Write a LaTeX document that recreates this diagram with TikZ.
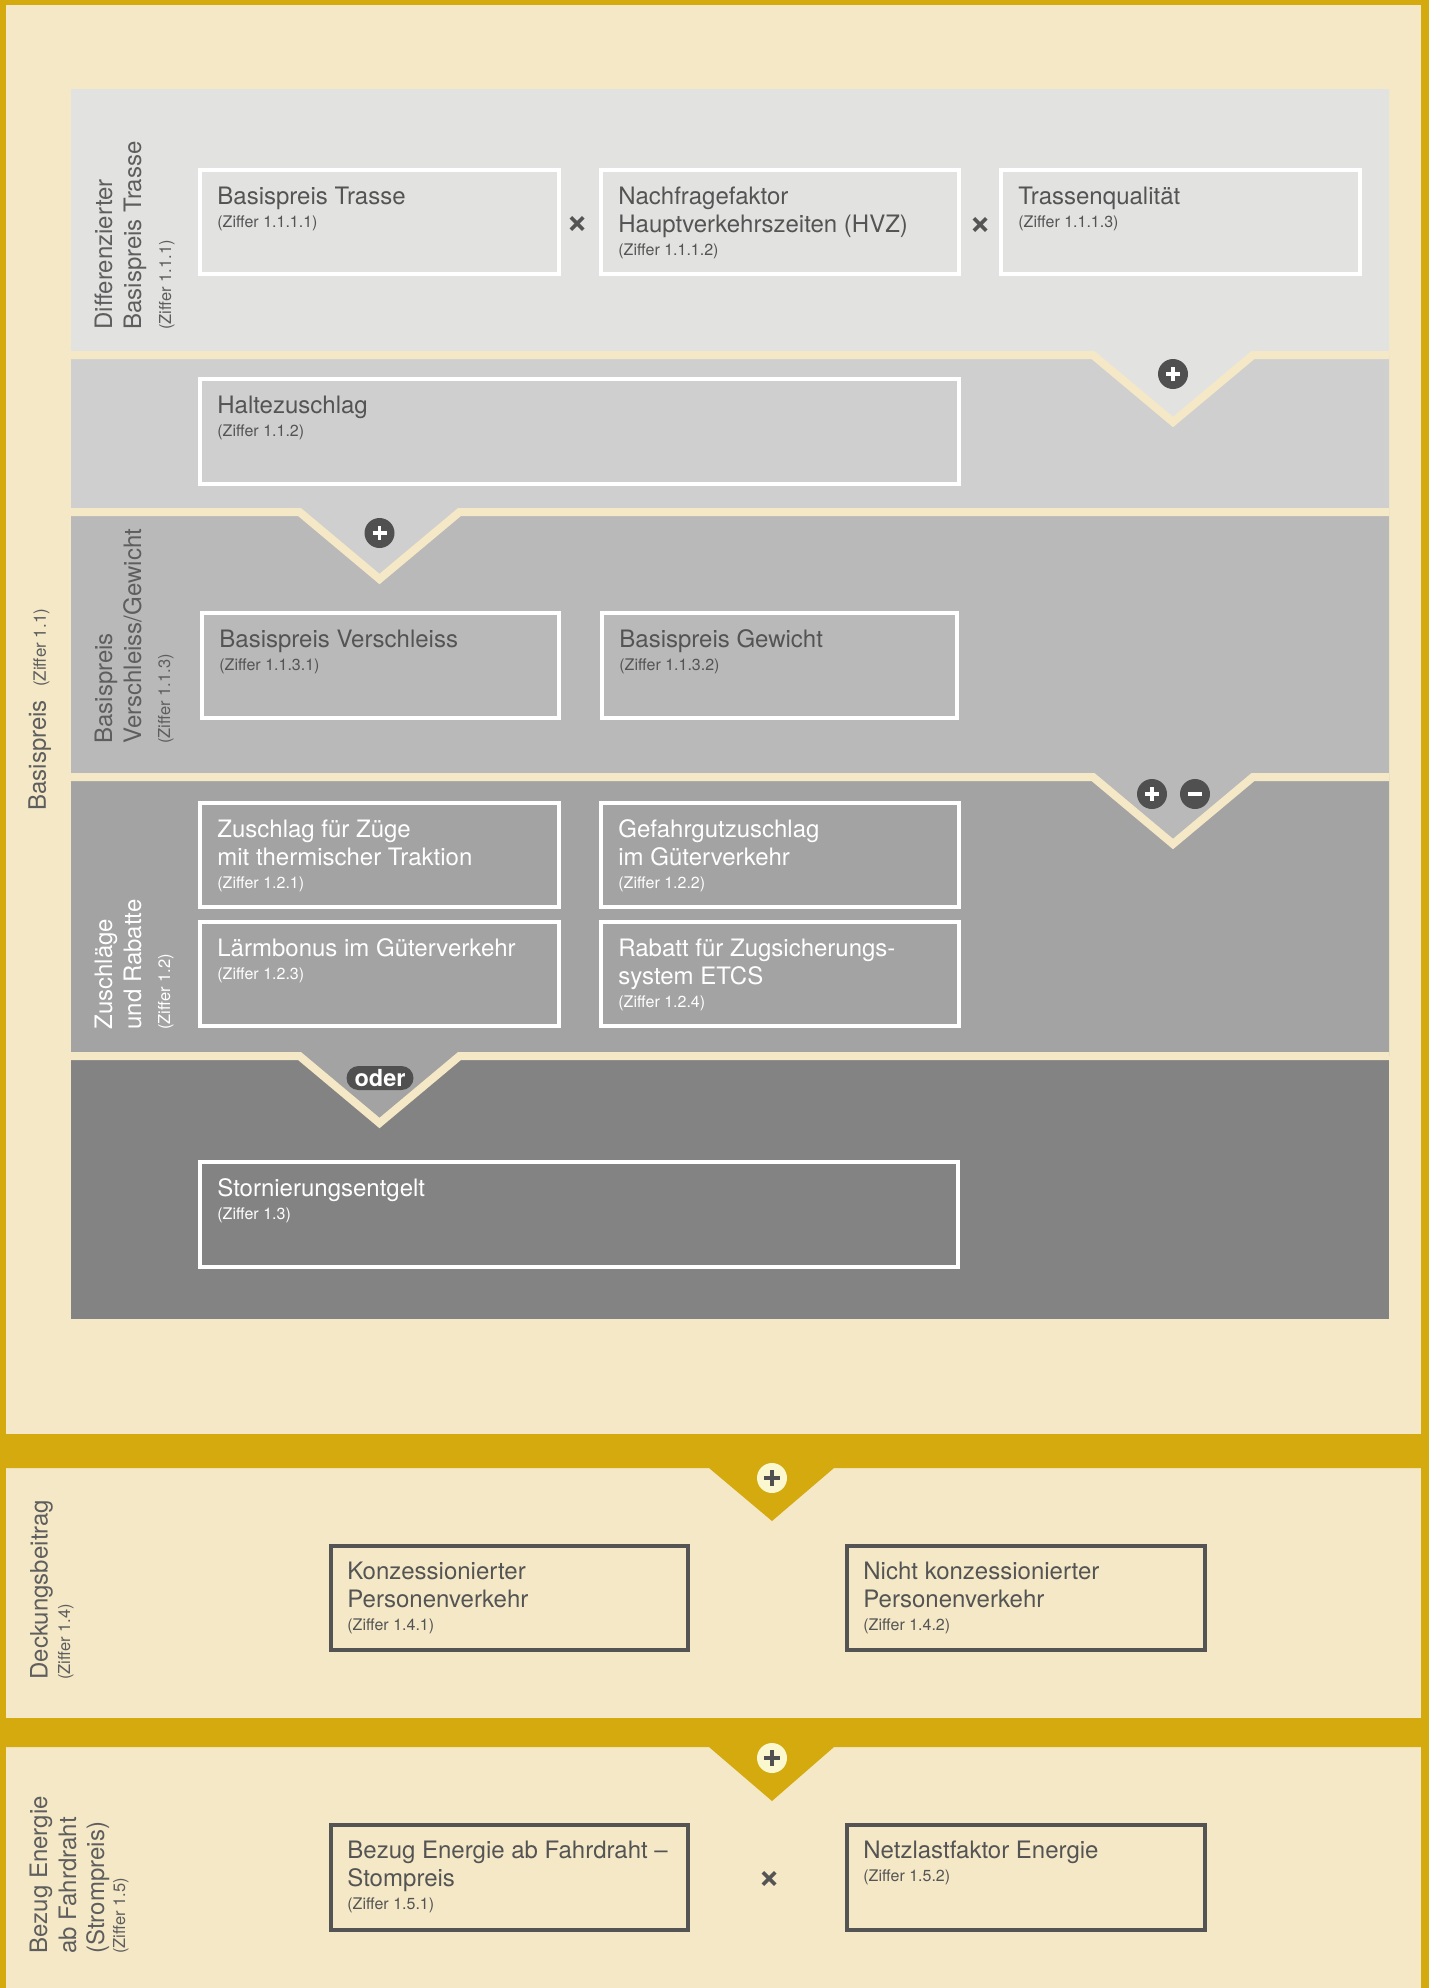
\documentclass[tikz,border=0pt]{standalone}
\usepackage{fontspec}
\setmainfont{TeX Gyre Heros}
\usetikzlibrary{calc}
\definecolor{gold}{RGB}{212,170,15}
\definecolor{cream}{RGB}{244,232,198}
\definecolor{sA}{RGB}{226,227,225}
\definecolor{sB}{RGB}{207,207,207}
\definecolor{sC}{RGB}{185,185,185}
\definecolor{sD}{RGB}{163,163,163}
\definecolor{sE}{RGB}{131,131,131}
\definecolor{txt}{RGB}{84,84,84}
\definecolor{lbl}{RGB}{94,94,94}
\definecolor{icon}{RGB}{80,80,80}
\definecolor{pale}{RGB}{251,248,208}
\newcommand\Ttl[2]{\vtop{\baselineskip=14.25pt\lineskiplimit=0pt\lineskip=1pt #1\baselineskip=11.5pt\hbox{\fontsize{8}{10}\selectfont #2}}}
\newcommand\Ln[1]{\hbox{#1}}
\newcommand\zsmall{\fontsize{8.5}{10}\selectfont}
\begin{document}
\begin{tikzpicture}[x=0.5pt,y=-0.5pt,
  wbox/.style={draw=white, line width=2pt, inner sep=0pt},
  dbox/.style={draw=txt, line width=2pt, inner sep=0pt},
  ttl/.style={anchor=base west, inner sep=0pt, font=\fontsize{12}{14.25}\selectfont, text=txt},
  ttlw/.style={ttl, text=white},
  vl/.style={rotate=90, anchor=base west, inner sep=0pt, font=\fontsize{12}{14}\selectfont, text=lbl},
  vz/.style={vl, font=\fontsize{8.25}{10}\selectfont},
  sep/.style={draw=cream, line width=4pt, line join=miter},
  mult/.style={font=\fontsize{19}{19}\selectfont\bfseries, text=txt, inner sep=0pt},
  dicon/.style={circle, fill=icon, minimum size=15pt, inner sep=0pt},
  picon/.style={circle, fill=pale, minimum size=15pt, inner sep=0pt},
  wsym/.style={draw=white, line width=1.6pt},
  gsym/.style={draw=icon, line width=1.75pt}]
\useasboundingbox (0,0) rectangle (1429,1988);
% background frame
\fill[gold] (0,0) rectangle (1429,1988);
\fill[cream] (5.5,4.5) rectangle (1421,1988);
% gold bands with triangles
\fill[gold] (0,1434) -- (1429,1434) -- (1429,1468) -- (834,1468) -- (772,1521) -- (709,1468) -- (0,1468) -- cycle;
\fill[gold] (0,1718) -- (1429,1718) -- (1429,1747) -- (834,1747) -- (772,1801) -- (709,1747) -- (0,1747) -- cycle;
% grey sections
\fill[sE] (71,1056) rectangle (1389,1319);
\fill[sD] (71,777) -- (1389,777) -- (1389,1056) -- (459.5,1056) -- (379.5,1123) -- (299.5,1056) -- (71,1056) -- cycle;
\fill[sC] (71,512) -- (1389,512) -- (1389,777) -- (1253,777) -- (1173,844) -- (1093,777) -- (71,777) -- cycle;
\fill[sB] (71,355) -- (1389,355) -- (1389,512) -- (459.5,512) -- (379.5,579) -- (299.5,512) -- (71,512) -- cycle;
\fill[sA] (71,89) -- (1389,89) -- (1389,355) -- (1253,355) -- (1173,422) -- (1093,355) -- (71,355) -- cycle;
% separators
\draw[sep] (71,355) -- (1093,355) -- (1173,422) -- (1253,355) -- (1389,355);
\draw[sep] (71,512) -- (299.5,512) -- (379.5,579) -- (459.5,512) -- (1389,512);
\draw[sep] (71,777) -- (1093,777) -- (1173,844) -- (1253,777) -- (1389,777);
\draw[sep] (71,1056) -- (299.5,1056) -- (379.5,1123) -- (459.5,1056) -- (1389,1056);

% icons
\node[dicon] (p1) at (1173,374) {};
\draw[wsym] ($(p1)+(-7,0)$) -- ($(p1)+(7,0)$) ($(p1)+(0,-7)$) -- ($(p1)+(0,7)$);
\node[dicon] (p2) at (379.5,533) {};
\draw[wsym] ($(p2)+(-7,0)$) -- ($(p2)+(7,0)$) ($(p2)+(0,-7)$) -- ($(p2)+(0,7)$);
\node[dicon] (p3) at (1152,794) {};
\draw[wsym] ($(p3)+(-7,0)$) -- ($(p3)+(7,0)$) ($(p3)+(0,-7)$) -- ($(p3)+(0,7)$);
\node[dicon] (m3) at (1195,794) {};
\draw[wsym] ($(m3)+(-7,0)$) -- ($(m3)+(7,0)$);
\node[fill=icon, rounded corners=6pt, minimum width=33.5pt, minimum height=12pt, inner sep=0pt, text=white, font=\fontsize{11.75}{12}\selectfont\bfseries] (oder) at (380,1078) {oder};
\node[picon] (p4) at (772,1478) {};
\draw[gsym] ($(p4)+(-8,0)$) -- ($(p4)+(8,0)$) ($(p4)+(0,-8)$) -- ($(p4)+(0,8)$);
\node[picon] (p5) at (772,1758) {};
\draw[gsym] ($(p5)+(-8,0)$) -- ($(p5)+(8,0)$) ($(p5)+(0,-8)$) -- ($(p5)+(0,8)$);

% section 1
\node[wbox, minimum width=179.5pt, minimum height=52pt] (b111) at (379.5,222) {};
\node[ttl] (t111) at ($(b111.north west)+(19,36)$) {\Ttl{\Ln{Basispreis Trasse}}{(Ziffer 1.1.1.1)}};
\node[wbox, minimum width=179pt, minimum height=52pt] (b112) at (780,222) {};
\node[ttl] (t112) at ($(b112.north west)+(19,36)$) {\Ttl{\Ln{Nachfragefaktor}\Ln{Hauptverkehrszeiten (HVZ)}}{(Ziffer 1.1.1.2)}};
\node[wbox, minimum width=179.5pt, minimum height=52pt] (b113) at (1180.5,222) {};
\node[ttl] (t113) at ($(b113.north west)+(19,36)$) {\Ttl{\Ln{Trassenqualität}}{(Ziffer 1.1.1.3)}};
\node[mult] (x1) at (578,225) {×};
\node[mult] (x2) at (981,226) {×};
% section 2
\node[wbox, minimum width=379.5pt, minimum height=52.5pt] (b112h) at (579.5,431.5) {};
\node[ttl] (t112h) at ($(b112h.north west)+(19,36)$) {\Ttl{\Ln{Haltezuschlag}}{(Ziffer 1.1.2)}};
% section 3
\node[wbox, minimum width=178.5pt, minimum height=52.5pt] (b1131) at (380.5,665.5) {};
\node[ttl] (t1131) at ($(b1131.north west)+(19,36)$) {\Ttl{\Ln{Basispreis Verschleiss}}{(Ziffer 1.1.3.1)}};
\node[wbox, minimum width=177.5pt, minimum height=52.5pt] (b1132) at (779.5,665.5) {};
\node[ttl] (t1132) at ($(b1132.north west)+(19,36)$) {\Ttl{\Ln{Basispreis Gewicht}}{(Ziffer 1.1.3.2)}};
% section 4
\node[wbox, minimum width=179.5pt, minimum height=52pt] (b121) at (379.5,855) {};
\node[ttlw] (t121) at ($(b121.north west)+(19,36)$) {\Ttl{\Ln{Zuschlag für Züge}\Ln{mit thermischer Traktion}}{(Ziffer 1.2.1)}};
\node[wbox, minimum width=179pt, minimum height=52pt] (b122) at (780,855) {};
\node[ttlw] (t122) at ($(b122.north west)+(19,36)$) {\Ttl{\Ln{Gefahrgutzuschlag}\Ln{im Güterverkehr}}{(Ziffer 1.2.2)}};
\node[wbox, minimum width=179.5pt, minimum height=52pt] (b123) at (379.5,974) {};
\node[ttlw] (t123) at ($(b123.north west)+(19,36)$) {\Ttl{\Ln{Lärmbonus im Güterverkehr}}{(Ziffer 1.2.3)}};
\node[wbox, minimum width=179pt, minimum height=52pt] (b124) at (780,974) {};
\node[ttlw] (t124) at ($(b124.north west)+(19,36)$) {\Ttl{\Ln{Rabatt für Zugsicherungs-}\Ln{system ETCS}}{(Ziffer 1.2.4)}};
% section 5
\node[wbox, minimum width=379pt, minimum height=52.5pt] (b13) at (579,1214.5) {};
\node[ttlw] (t13) at ($(b13.north west)+(19,36)$) {\Ttl{\Ln{Stornierungsentgelt}}{(Ziffer 1.3)}};
% Deckungsbeitrag
\node[dbox, minimum width=178.5pt, minimum height=52pt] (b141) at (509.5,1598) {};
\node[ttl] (t141) at ($(b141.north west)+(18,35)$) {\Ttl{\Ln{Konzessionierter}\Ln{Personenverkehr}}{(Ziffer 1.4.1)}};
\node[dbox, minimum width=179pt, minimum height=52pt] (b142) at (1026,1598) {};
\node[ttl] (t142) at ($(b142.north west)+(18,35)$) {\Ttl{\Ln{Nicht konzessionierter}\Ln{Personenverkehr}}{(Ziffer 1.4.2)}};
% Bezug Energie
\node[dbox, minimum width=178.5pt, minimum height=52.5pt] (b151) at (509.5,1877.5) {};
\node[ttl] (t151) at ($(b151.north west)+(18,35)$) {\Ttl{\Ln{Bezug Energie ab Fahrdraht –}\Ln{Stompreis}}{(Ziffer 1.5.1)}};
\node[dbox, minimum width=179pt, minimum height=52.5pt] (b152) at (1026,1877.5) {};
\node[ttl] (t152) at ($(b152.north west)+(18,35)$) {\Ttl{\Ln{Netzlastfaktor Energie}}{(Ziffer 1.5.2)}};
\node[mult] (x3) at (770,1880) {×};

% vertical labels
\node[vl] (la1) at (112,330) {Differenzierter};
\node[vl] (la2) at (141,330) {Basispreis Trasse};
\node[vz] (la3) at (171,330) {(Ziffer 1.1.1)};
\node[vl] (lc1) at (112,744) {Basispreis};
\node[vl] (lc2) at (141,744) {Verschleiss/Gewicht};
\node[vz] (lc3) at (170,744) {(Ziffer 1.1.3)};
\node[vl, text=white] (ld1) at (112,1030) {Zuschläge};
\node[vl, text=white] (ld2) at (141,1030) {und Rabatte};
\node[vz, text=white] (ld3) at (170,1030) {(Ziffer 1.2)};
\node[vl] (lb) at (46,811) {Basispreis\ \ {\zsmall(Ziffer 1.1)}};
\node[vl] (le1) at (47.5,1680) {Deckungsbeitrag};
\node[vz] (le2) at (70,1680) {(Ziffer 1.4)};
\node[vl] (lf1) at (47,1954) {Bezug Energie};
\node[vl] (lf2) at (76,1954) {ab Fahrdraht};
\node[vl] (lf3) at (104,1954) {(Strompreis)};
\node[vz] (lf4) at (125,1954) {(Ziffer 1.5)};
\end{tikzpicture}
\end{document}
